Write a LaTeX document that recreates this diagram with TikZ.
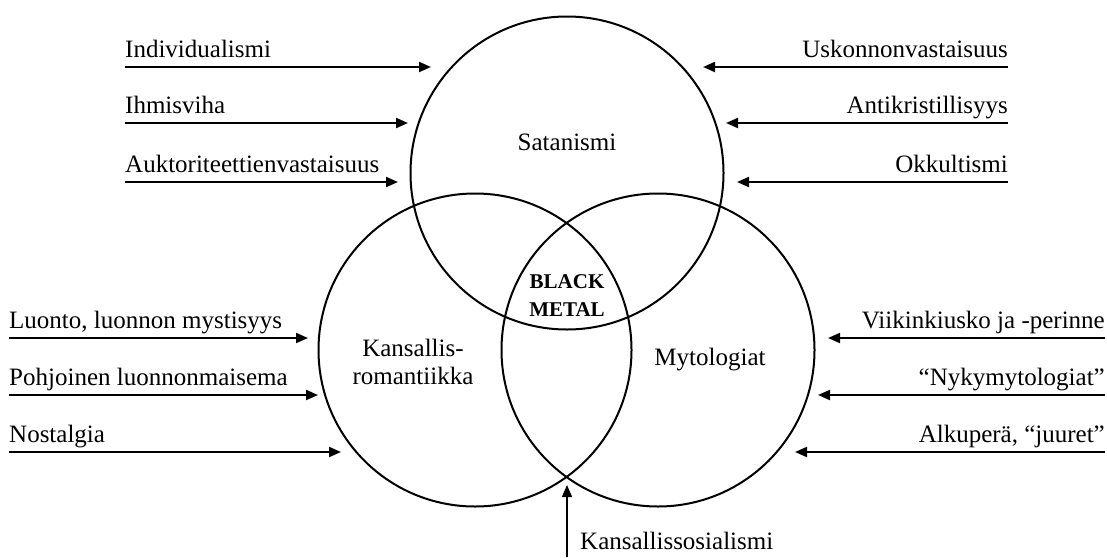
\documentclass[tikz,border=0pt]{standalone}
\usepackage{fontspec}
\setmainfont{Liberation Serif}
\usetikzlibrary{arrows.meta}
\begin{document}
\begin{tikzpicture}[x=1pt,y=-1pt,
  ring/.style={draw,line width=2pt,circle,minimum size=313pt,inner sep=0pt},
  feed/.style={line width=2pt,-{Triangle[length=12pt,width=10pt]}},
  lbl/.style={font=\fontsize{25}{28}\selectfont,inner sep=0pt},
  core/.style={font=\fontsize{21}{28}\selectfont\bfseries,align=center,inner sep=0pt}]
\useasboundingbox (0,0) rectangle (1107,557);
% circles
\node[ring] (sat) at (567,173) {};
\node[ring] (kan) at (475,350) {};
\node[ring] (myt) at (658,350) {};
% circle labels
\node[lbl] (satl) at (567,142) {Satanismi};
\node[lbl,align=center] (kanl) at (413,362) {Kansallis-\\romantiikka};
\node[lbl] (mytl) at (710,360) {Mytologiat};
\node[core] (bm) at (567,296) {BLACK\\METAL};
% left top arrows
\coordinate (a1s) at (125,67);  \coordinate (a1e) at (431,67);
\coordinate (a2s) at (125,123); \coordinate (a2e) at (408,123);
\coordinate (a3s) at (125,182); \coordinate (a3e) at (398,182);
\draw[feed] (a1s) -- (a1e);
\draw[feed] (a2s) -- (a2e);
\draw[feed] (a3s) -- (a3e);
\node[lbl,anchor=base west] (t1) at (125,57) {Individualismi};
\node[lbl,anchor=base west] (t2) at (125,113) {Ihmisviha};
\node[lbl,anchor=base west] (t3) at (125,172) {Auktoriteettienvastaisuus};
% right top arrows
\coordinate (b1s) at (1008,67);  \coordinate (b1e) at (703,67);
\coordinate (b2s) at (1008,123); \coordinate (b2e) at (726,123);
\coordinate (b3s) at (1008,182); \coordinate (b3e) at (737,182);
\draw[feed] (b1s) -- (b1e);
\draw[feed] (b2s) -- (b2e);
\draw[feed] (b3s) -- (b3e);
\node[lbl,anchor=base east] (u1) at (1008,57) {Uskonnonvastaisuus};
\node[lbl,anchor=base east] (u2) at (1008,113) {Antikristillisyys};
\node[lbl,anchor=base east] (u3) at (1008,172) {Okkultismi};
% left lower arrows
\coordinate (c1s) at (9,338); \coordinate (c1e) at (308,338);
\coordinate (c2s) at (9,395); \coordinate (c2e) at (318,395);
\coordinate (c3s) at (9,452); \coordinate (c3e) at (341,452);
\draw[feed] (c1s) -- (c1e);
\draw[feed] (c2s) -- (c2e);
\draw[feed] (c3s) -- (c3e);
\node[lbl,anchor=base west] (v1) at (9,328) {Luonto, luonnon mystisyys};
\node[lbl,anchor=base west] (v2) at (9,385) {Pohjoinen luonnonmaisema};
\node[lbl,anchor=base west] (v3) at (9,442) {Nostalgia};
% right lower arrows
\coordinate (d1s) at (1105,338); \coordinate (d1e) at (828,338);
\coordinate (d2s) at (1105,395); \coordinate (d2e) at (818,395);
\coordinate (d3s) at (1105,452); \coordinate (d3e) at (795,452);
\draw[feed] (d1s) -- (d1e);
\draw[feed] (d2s) -- (d2e);
\draw[feed] (d3s) -- (d3e);
\node[lbl,anchor=base east] (w1) at (1105,328) {Viikinkiusko ja -perinne};
\node[lbl,anchor=base east] (w2) at (1105,385) {“Nykymytologiat”};
\node[lbl,anchor=base east] (w3) at (1105,442) {Alkuperä, “juuret”};
% bottom arrow
\coordinate (es) at (567,557); \coordinate (ee) at (567,485);
\draw[line width=1.4pt,-{Triangle[length=12pt,width=10pt]}] (es) -- (ee);
\node[lbl,anchor=base west] (x1) at (580,549) {Kansallissosialismi};
\end{tikzpicture}
\end{document}
